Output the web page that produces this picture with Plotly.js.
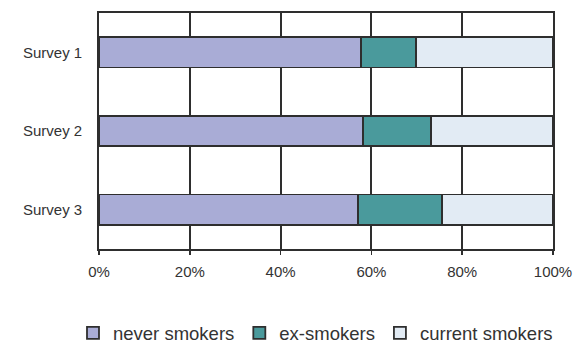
<!DOCTYPE html>
<html>
<head>
<meta charset="utf-8">
<script src="https://cdn.plot.ly/plotly-3.0.1.min.js"></script>
<style>html,body{margin:0;padding:0;background:#fff;}#chart{width:584px;height:347px;}</style>
</head>
<body>
<div id="chart"></div>
<script>
const categories = ["Survey 1", "Survey 2", "Survey 3"];
const neverSmokers = [57.7, 58.2, 57.1];
const exSmokers = [12.1, 14.9, 18.5];
const currentSmokers = [30.2, 26.9, 24.4];
const seriesNames = ["never smokers", "ex-smokers", "current smokers"];
const tickVals = [0, 20, 40, 60, 80, 100];
const tickText = ["0%", "20%", "40%", "60%", "80%", "100%"];

const colors = ["#a9acd6", "#4a9a9c", "#e2ebf4"];
const series = [neverSmokers, exSmokers, currentSmokers];
const traces = series.map((vals, i) => ({
  type: "bar",
  orientation: "h",
  name: seriesNames[i],
  y: categories,
  x: vals,
  width: 0.385,
  marker: {color: colors[i], line: {color: "#2e2e2e", width: 1.8}},
  hoverinfo: "skip"
}));

const layout = {
  width: 584, height: 347,
  margin: {l: 99, r: 31, t: 13, b: 98, autoexpand: false},
  barmode: "stack",
  paper_bgcolor: "#fff", plot_bgcolor: "#fff",
  font: {family: "Liberation Sans, Arial, sans-serif", size: 15, color: "#333"},
  showlegend: true,
  legend: {orientation: "h", traceorder: "normal", x: 1.011, xanchor: "right",
           y: -0.357, yanchor: "middle", font: {size: 18.5, color: "#333"},
           itemwidth: 30, tracegroupgap: 0, bgcolor: "rgba(0,0,0,0)"},
  xaxis: {range: [0, 100], tickvals: tickVals, ticktext: tickText, automargin: false,
          showgrid: true, gridcolor: "#2e2e2e", gridwidth: 1.8,
          showline: true, linecolor: "#2e2e2e", linewidth: 1.8, mirror: true,
          ticks: "outside", ticklen: 4, tickwidth: 1.5, tickcolor: "#2e2e2e", zeroline: false,
          ticklabelstandoff: 4, tickfont: {size: 15}},
  yaxis: {autorange: "reversed", showgrid: false, showline: true, linecolor: "#2e2e2e",
          automargin: false, linewidth: 1.8, mirror: true, ticks: "", ticklen: 0,
          ticklabelstandoff: 12, tickfont: {size: 15}}
};
Plotly.newPlot("chart", traces, layout, {displayModeBar: false, staticPlot: true});
</script>
</body>
</html>
